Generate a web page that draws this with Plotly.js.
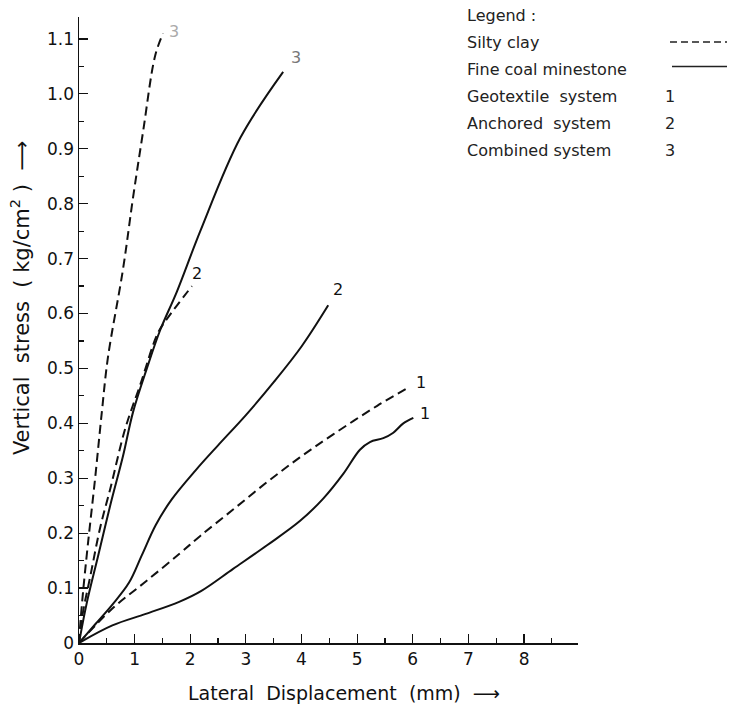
<!DOCTYPE html>
<html>
<head>
<meta charset="utf-8">
<script src="https://cdn.plot.ly/plotly-3.0.1.min.js"></script>
<style>html,body{margin:0;padding:0;background:#fff;}#chart{width:731px;height:713px;}</style>
</head>
<body>
<div id="chart"></div>
<script>
// Lateral displacement (mm) / vertical stress (kg/cm2)
const siltyCombinedX = [0, 0.02, 0.07, 0.16, 0.29, 0.41, 0.52, 0.79, 0.97, 1.15, 1.37, 1.51];
const siltyCombinedY = [0, 0.03, 0.09, 0.18, 0.30, 0.42, 0.52, 0.68, 0.81, 0.93, 1.07, 1.11];

const coalCombinedX = [0, 0.14, 0.34, 0.56, 0.79, 0.97, 1.22, 1.46, 1.76, 2.18, 2.90, 3.67];
const coalCombinedY = [0, 0.073, 0.157, 0.25, 0.34, 0.42, 0.50, 0.57, 0.64, 0.75, 0.92, 1.04];

const siltyAnchoredX = [0, 0.07, 0.20, 0.38, 0.56, 0.83, 1.10, 1.42, 1.58, 2.03];
const siltyAnchoredY = [0, 0.055, 0.12, 0.21, 0.28, 0.39, 0.47, 0.565, 0.59, 0.65];

const coalAnchoredX = [0, 0.30, 0.60, 0.90, 1.13, 1.38, 1.67, 2.10, 2.50, 3.00, 3.50, 4.00, 4.48];
const coalAnchoredY = [0, 0.035, 0.07, 0.11, 0.16, 0.215, 0.262, 0.315, 0.36, 0.415, 0.475, 0.54, 0.615];

const siltyGeoX = [0, 0.59, 1.20, 1.80, 2.18, 2.77, 3.38, 3.97, 4.57, 5.36, 5.95];
const siltyGeoY = [0, 0.062, 0.112, 0.162, 0.195, 0.243, 0.293, 0.338, 0.38, 0.432, 0.467];

const coalGeoX = [0, 0.60, 1.20, 1.80, 2.20, 2.77, 3.38, 3.97, 4.39, 4.75, 5.05, 5.23, 5.47, 5.65, 5.83, 6.01];
const coalGeoY = [0, 0.032, 0.053, 0.075, 0.095, 0.135, 0.178, 0.222, 0.263, 0.308, 0.352, 0.366, 0.373, 0.383, 0.40, 0.41];

const xTickVals = [0, 1, 2, 3, 4, 5, 6, 7, 8];
const yTickVals = [0, 0.1, 0.2, 0.3, 0.4, 0.5, 0.6, 0.7, 0.8, 0.9, 1.0, 1.1];
const yTickText = ["0", "0.1", "0.2", "0.3", "0.4", "0.5", "0.6", "0.7", "0.8", "0.9", "1.0", "1.1"];

const legendLines = ["Legend :", "Silty clay", "Fine coal minestone", "Geotextile  system", "Anchored  system", "Combined system"];
const legendKeys = ["", "", "", "1", "2", "3"];

const FONT = "DejaVu Sans, sans-serif";
const DASH = "9px,5px";

function series(x, y, dashed) {
  return {x: x, y: y, mode: "lines", type: "scatter",
          line: {color: "#111", width: 2, dash: dashed ? DASH : "solid", shape: "spline", smoothing: 1},
          hoverinfo: "skip", showlegend: false};
}

const traces = [
  series(siltyCombinedX, siltyCombinedY, true),
  series(coalCombinedX, coalCombinedY, false),
  series(siltyAnchoredX, siltyAnchoredY, true),
  series(coalAnchoredX, coalAnchoredY, false),
  series(siltyGeoX, siltyGeoY, true),
  series(coalGeoX, coalGeoY, false)
];

function endLabel(xs, ys, text, dx, dy, color) {
  return {x: xs[xs.length - 1], y: ys[ys.length - 1], xref: "x", yref: "y", text: text,
          showarrow: false, xshift: dx, yshift: dy, xanchor: "left", yanchor: "middle",
          font: {family: FONT, size: 16, color: color || "#111"}};
}

const annotations = [
  endLabel(siltyCombinedX, siltyCombinedY, "3", 4, 2, "#aaa"),
  endLabel(coalCombinedX, coalCombinedY, "3", 6, 14, "#777"),
  endLabel(siltyAnchoredX, siltyAnchoredY, "2", -2, 13),
  endLabel(coalAnchoredX, coalAnchoredY, "2", 3, 16),
  endLabel(siltyGeoX, siltyGeoY, "1", 4, 4),
  endLabel(coalGeoX, coalGeoY, "1", 5, 4),
  {xref: "paper", yref: "paper", x: -0.118, y: (643 - 298) / 626,
   text: "Vertical  stress  ( kg/cm<sup>2</sup> )  ⟶",
   textangle: -90, showarrow: false, xanchor: "center", yanchor: "middle",
   font: {family: FONT, size: 21, color: "#111"}},
  {xref: "paper", yref: "paper", x: (344 - 79) / 499, y: (643 - 693) / 626,
   text: "Lateral  Displacement  (mm)  ⟶",
   showarrow: false, xanchor: "center", yanchor: "middle",
   font: {family: FONT, size: 19, color: "#111"}}
];

const legX = (465 - 79) / 499;
const legTop = 1 + (17 - 15) / 626;
const legStep = 27 / 626;
const shapes = [];
legendLines.forEach(function (t, i) {
  const yy = legTop - i * legStep;
  annotations.push({xref: "paper", yref: "paper", x: legX, y: yy, text: t, showarrow: false,
    xanchor: "left", yanchor: "middle", font: {family: FONT, size: 16, color: "#222"}});
  if (legendKeys[i]) {
    annotations.push({xref: "paper", yref: "paper", x: (663 - 79) / 499, y: yy, text: legendKeys[i],
      showarrow: false, xanchor: "left", yanchor: "middle", font: {family: FONT, size: 16, color: "#222"}});
  }
});
shapes.push({type: "line", xref: "paper", yref: "paper", x0: (670 - 79) / 499, x1: (727 - 79) / 499,
  y0: legTop - legStep, y1: legTop - legStep, line: {color: "#222", width: 1.5, dash: "7px,4px"}});
shapes.push({type: "line", xref: "paper", yref: "paper", x0: (672 - 79) / 499, x1: (727 - 79) / 499,
  y0: legTop - 2 * legStep + 0.004, y1: legTop - 2 * legStep + 0.004, line: {color: "#222", width: 1.5}});

const layout = {
  width: 731, height: 713,
  margin: {l: 79, r: 153, t: 17, b: 70},
  paper_bgcolor: "#fff", plot_bgcolor: "#fff",
  showlegend: false,
  xaxis: {range: [0, 8.97], tickmode: "array", tickvals: xTickVals, ticktext: xTickVals.map(String),
          showline: true, linecolor: "#111", linewidth: 1.5, showgrid: false, zeroline: false,
          ticks: "inside", ticklen: 9, tickwidth: 1.2, tickcolor: "#111",
          minor: {tickmode: "linear", tick0: 0.5, dtick: 1, ticks: "inside", ticklen: 5, tickwidth: 1.2, tickcolor: "#111", showgrid: false},
          tickfont: {family: FONT, size: 17, color: "#111"}, fixedrange: true},
  yaxis: {range: [0, 1.14], tickmode: "array", tickvals: yTickVals, ticktext: yTickText,
          showline: true, linecolor: "#111", linewidth: 1.5, showgrid: false, zeroline: false,
          ticks: "inside", ticklen: 9, tickwidth: 1.2, tickcolor: "#111",
          minor: {tickmode: "linear", tick0: 0.05, dtick: 0.1, ticks: "inside", ticklen: 5, tickwidth: 1.2, tickcolor: "#111", showgrid: false},
          tickfont: {family: FONT, size: 17, color: "#111"}, fixedrange: true},
  annotations: annotations,
  shapes: shapes
};

Plotly.newPlot("chart", traces, layout, {displayModeBar: false, staticPlot: true});
</script>
</body>
</html>
